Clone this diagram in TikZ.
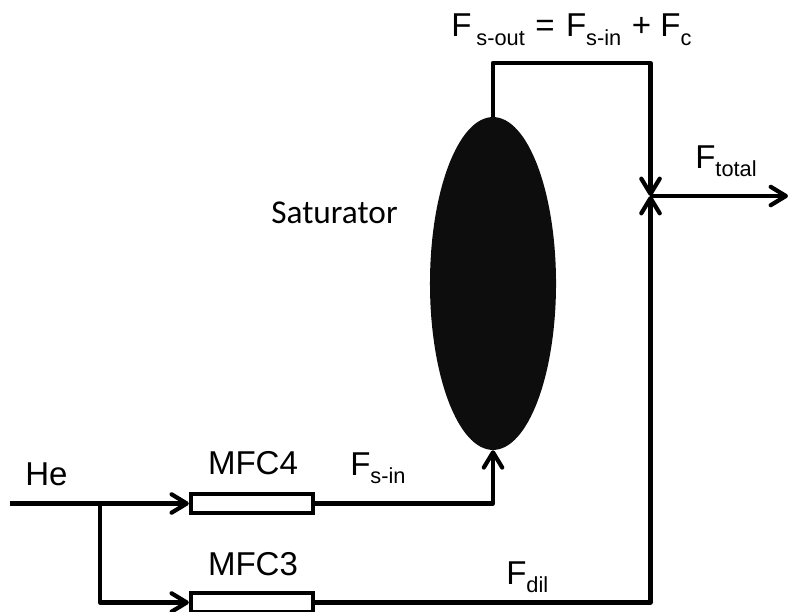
\documentclass[tikz,border=0pt]{standalone}
\usepackage{fontspec}
\setmainfont{Liberation Sans}
\newfontfamily\satfont{Carlito}
\usetikzlibrary{arrows.meta,positioning,shapes.geometric}
\newcommand{\flowsub}[1]{\raisebox{-6pt}{\fontsize{15.5}{16}\selectfont #1}}
\begin{document}
\begin{tikzpicture}[x=0.025cm,y=-0.025cm,
  every node/.style={font=\fontsize{23.5}{25}\selectfont,inner sep=0pt},
  mfc/.style={draw=black,line width=3pt,fill=white,minimum width=3.05cm,minimum height=0.475cm},
  vessel/.style={ellipse,fill=black!95,minimum width=3.15cm,minimum height=8.32cm},
  pipe/.style={line width=3pt,line join=round},
  ar/.style={pipe,-{Straight Barb[length=3.8mm,width=4.6mm,round,line width=3pt]}},
  lab/.style={anchor=base west},
  mid/.style={anchor=base}]
\useasboundingbox (0,0) rectangle (788,611);
\node[vessel] (sat) at (493,283.5) {};
\node[mfc] (m4) at (252,503.5) {};
\node[mfc] (m3) at (252,602.5) {};
\coordinate (he) at (10,503.5);
\coordinate (br) at (100,503.5);
\coordinate (tr) at (650.5,63);
\coordinate (jn) at (650.5,196);
\coordinate (out) at (788,196);
\draw[ar] (he) -- (m4);
\draw[ar] (br) |- (m3);
\draw[ar] (m4) -| (sat.south);
\draw[ar] (sat.north) |- (tr) -- (jn);
\draw[ar] (m3) -| (jn);
\draw[ar] (jn) -- (out);
\node[lab] (lhe) at (25,485) {He};
\node[mid] (l4) at (253,474) {MFC4};
\node[mid] (l3) at (253,575) {MFC3};
\node[lab] (lin) at (350,475) {F\flowsub{s-in}};
\node[lab] (ldil) at (506,584) {F\flowsub{dil}};
\node[lab] (ltot) at (695,168) {F\flowsub{total}};
\node[lab] (lout) at (451,37) {F\hspace{3.5pt}\flowsub{s-out}\hspace{1pt} = \hspace{1.5pt}F\flowsub{s-in}\hspace{1pt} + F\flowsub{c}};
\node[mid,font=\satfont\fontsize{23.7}{25}\selectfont] (lsat) at (334.5,223) {Saturator};
\end{tikzpicture}
\end{document}
